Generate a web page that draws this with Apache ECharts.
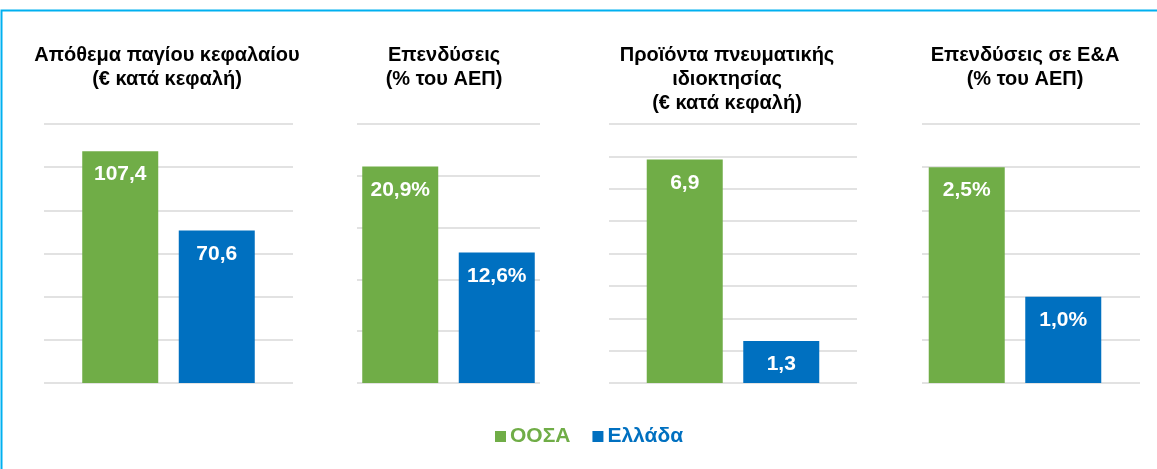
<!DOCTYPE html>
<html>
<head>
<meta charset="utf-8">
<script src="https://cdn.jsdelivr.net/npm/echarts@6/dist/echarts.min.js"></script>
<style>
  html, body { margin: 0; padding: 0; background: #fff; }
  #chart { width: 1157px; height: 469px; }
</style>
</head>
<body>
<div id="chart"></div>
<script>
// data
const panelTitles = [
  'Απόθεμα παγίου κεφαλαίου\n(€ κατά κεφαλή)',
  'Επενδύσεις\n(% του ΑΕΠ)',
  'Προϊόντα πνευματικής\nιδιοκτησίας\n(€ κατά κεφαλή)',
  'Επενδύσεις σε Ε&Α\n(% του ΑΕΠ)'
];
const seriesNames = ['ΟΟΣΑ', 'Ελλάδα'];
const oecdValues = [107.4, 20.9, 6.9, 2.5];
const greeceValues = [70.6, 12.6, 1.3, 1.0];
const axisMax = [120, 25, 8, 3];
const axisStep = [20, 5, 1, 0.5];
const valueSuffix = ['', '%', '', '%'];

const GREEN = '#70ad47';
const BLUE = '#0070c0';
const FONT = 'Liberation Sans';

// layout: grid for the gridlines, and the box where bars are centred
const gridBoxes = [
  { left: 44, width: 249 },
  { left: 357, width: 183 },
  { left: 609, width: 248 },
  { left: 922, width: 218 }
];
const barBoxes = [
  { left: 44, width: 249 },
  { left: 357, width: 183 },
  { left: 609, width: 248 },
  { left: 922, width: 186 }
];
const titleCenters = [162, 439, 722, 1020];

const myChart = echarts.init(document.getElementById('chart'));

const grid = [], xAxis = [], yAxis = [], series = [], title = [];

const fmt = (i) => (p) => p.value.toFixed(1).replace('.', ',') + valueSuffix[i];

panelTitles.forEach((t, i) => {
  title.push({
    text: t,
    left: titleCenters[i],
    top: 38,
    textAlign: 'center',
    textStyle: { fontFamily: FONT, fontSize: 20, fontWeight: 'bold', color: '#000', lineHeight: 24 }
  });

  // gridline grid
  const gi = grid.length;
  grid.push({ left: gridBoxes[i].left, width: gridBoxes[i].width, top: 124, bottom: 86 });
  xAxis.push({ gridIndex: gi, type: 'category', data: [''], show: false });
  yAxis.push({
    gridIndex: gi, type: 'value', min: 0, max: axisMax[i], interval: axisStep[i],
    axisLabel: { show: false }, axisLine: { show: false }, axisTick: { show: false },
    splitLine: { lineStyle: { color: '#d9d9d9', width: 1.5 } }
  });

  // bar grid
  const bi = grid.length;
  grid.push({ left: barBoxes[i].left, width: barBoxes[i].width, top: 124, bottom: 86 });
  xAxis.push({ gridIndex: bi, type: 'category', data: [''], show: false });
  yAxis.push({
    gridIndex: bi, type: 'value', min: 0, max: axisMax[i], interval: axisStep[i],
    show: false, splitLine: { show: false }
  });

  const label = {
    show: true, position: 'insideTop', distance: 13,
    color: '#fff', fontFamily: FONT, fontSize: 21, fontWeight: 'bold',
    formatter: fmt(i)
  };
  series.push({
    name: seriesNames[0], type: 'bar', xAxisIndex: bi, yAxisIndex: bi,
    barWidth: 76, barGap: '27%', itemStyle: { color: GREEN },
    label, data: [oecdValues[i]]
  });
  series.push({
    name: seriesNames[1], type: 'bar', xAxisIndex: bi, yAxisIndex: bi,
    barWidth: 76, barGap: '27%', itemStyle: { color: BLUE },
    label, data: [greeceValues[i]]
  });
});

myChart.setOption({
  animation: false,
  title,
  grid,
  xAxis,
  yAxis,
  series,
  legend: {
    left: 490,
    top: 421,
    icon: 'rect',
    itemWidth: 11,
    itemHeight: 11,
    itemGap: 22,
    textStyle: { fontFamily: FONT, fontSize: 21, fontWeight: 'bold', padding: [0, 0, 0, -1] },
    data: [
      { name: seriesNames[0], textStyle: { color: GREEN } },
      { name: seriesNames[1], textStyle: { color: BLUE } }
    ]
  },
  graphic: [{
    type: 'rect',
    silent: true,
    shape: { x: 1.5, y: 10.5, width: 1200, height: 600 },
    style: { fill: 'none', stroke: '#00b0f0', lineWidth: 2 }
  }]
});

window.onresize = function () {
  myChart.resize();
};
</script>
</body>
</html>
